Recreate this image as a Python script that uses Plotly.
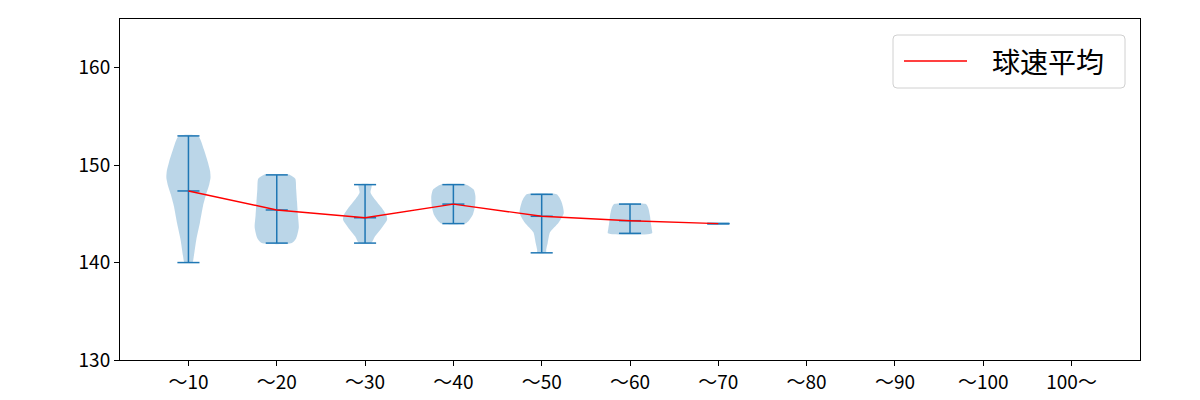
import plotly.graph_objects as go

categories = ["～10", "～20", "～30", "～40", "～50", "～60", "～70", "～80", "～90", "～100", "100～"]
mins = [140, 142, 142, 144, 141, 143, 144]
maxs = [153, 149, 148, 148, 147, 146, 144]
means = [147.35, 145.4, 144.6, 146.0, 144.75, 144.3, 144.0]
# clipped (below axis) markers for the empty categories
empty_vals = [129.9, 129.9, 129.9, 129.9]

# violin outline profiles: speed levels and half-widths
prof_y = [
    [140.0, 140.6, 142.4, 144.1, 145.8, 147.0, 148.0, 148.7, 149.4, 150.3, 151.6, 153.0],
    [142.0, 142.5, 143.6, 144.8, 146.2, 147.5, 148.6, 149.0],
    [142.0, 142.7, 143.4, 144.4, 144.9, 145.6, 146.5, 147.2, 148.0],
    [144.0, 144.3, 144.9, 145.8, 146.8, 147.5, 148.0],
    [141.0, 141.3, 142.0, 143.1, 144.1, 145.1, 146.2, 147.0],
    [143.0, 143.4, 143.9, 144.8, 145.6, 146.0],
]
prof_w = [
    [0.045, 0.06, 0.09, 0.13, 0.165, 0.2, 0.235, 0.25, 0.245, 0.22, 0.175, 0.11],
    [0.17, 0.22, 0.25, 0.24, 0.23, 0.22, 0.21, 0.15],
    [0.068, 0.113, 0.175, 0.25, 0.24, 0.19, 0.11, 0.062, 0.074],
    [0.135, 0.175, 0.22, 0.245, 0.25, 0.23, 0.145],
    [0.05, 0.051, 0.068, 0.094, 0.19, 0.25, 0.226, 0.17],
    [0.25, 0.247, 0.238, 0.226, 0.207, 0.18],
]

BLUE = "#1f77b4"
FILL = "rgba(31,119,180,0.3)"
CAP = 0.125
FONT = "Noto Sans CJK JP"

positions = list(range(1, len(categories) + 1))
fig = go.Figure()

# violin bodies
for i, (ys, ws) in enumerate(zip(prof_y, prof_w)):
    p = positions[i]
    xs = [p - w for w in ws] + [p + w for w in reversed(ws)]
    yy = list(ys) + list(reversed(ys))
    fig.add_trace(go.Scatter(x=xs + [xs[0]], y=yy + [yy[0]], mode="lines", fill="toself",
                             fillcolor=FILL, line=dict(width=0, shape="spline", smoothing=0.6),
                             hoverinfo="skip", showlegend=False))

# vertical bars and caps
for i in range(len(mins)):
    p = positions[i]
    fig.add_trace(go.Scatter(x=[p, p], y=[mins[i], maxs[i]], mode="lines",
                             line=dict(color=BLUE, width=1.5), showlegend=False, hoverinfo="skip"))
    for v in (mins[i], maxs[i], means[i]):
        fig.add_trace(go.Scatter(x=[p - CAP, p + CAP], y=[v, v], mode="lines",
                                 line=dict(color=BLUE, width=1.5), showlegend=False, hoverinfo="skip"))

for j, v in enumerate(empty_vals):
    p = positions[len(mins) + j]
    fig.add_trace(go.Scatter(x=[p - CAP, p + CAP], y=[v, v], mode="lines",
                             line=dict(color=BLUE, width=1.5), showlegend=False, hoverinfo="skip"))

# mean line
fig.add_trace(go.Scatter(x=positions[:len(means)], y=means, mode="lines", name="球速平均",
                         line=dict(color="red", width=1.4), showlegend=False))

# legend (drawn manually)
def px_x(px):
    return (px - 120) / 1020

def px_y(py):
    return (360 - py) / 341

x0, x1, y0, y1 = 893, 1125, 35, 88
r = 4
path = (f"M {px_x(x0 + r)},{px_y(y0)} L {px_x(x1 - r)},{px_y(y0)} "
        f"Q {px_x(x1)},{px_y(y0)} {px_x(x1)},{px_y(y0 + r)} "
        f"L {px_x(x1)},{px_y(y1 - r)} Q {px_x(x1)},{px_y(y1)} {px_x(x1 - r)},{px_y(y1)} "
        f"L {px_x(x0 + r)},{px_y(y1)} Q {px_x(x0)},{px_y(y1)} {px_x(x0)},{px_y(y1 - r)} "
        f"L {px_x(x0)},{px_y(y0 + r)} Q {px_x(x0)},{px_y(y0)} {px_x(x0 + r)},{px_y(y0)} Z")
fig.add_shape(type="path", path=path, xref="paper", yref="paper",
              line=dict(color="#d0d0d0", width=1), fillcolor="rgba(255,255,255,0.8)", layer="above")
fig.add_shape(type="line", xref="paper", yref="paper", x0=px_x(904), x1=px_x(967),
              y0=px_y(61), y1=px_y(61), line=dict(color="red", width=1.4), layer="above")
fig.add_annotation(xref="paper", yref="paper", x=px_x(990), y=px_y(61), text="球速平均",
                   showarrow=False, xanchor="left", yanchor="middle",
                   font=dict(family=FONT, size=28, color="black"))

fig.update_layout(
    width=1200, height=400,
    margin=dict(l=120, r=60, t=19, b=40),
    paper_bgcolor="white", plot_bgcolor="white",
    font=dict(family=FONT, size=19, color="black"),
    showlegend=False,
)
fig.update_xaxes(range=[0.225, 11.775], tickvals=positions, ticktext=categories,
                 showline=True, linecolor="black", linewidth=1, mirror=True, automargin=False,
                 ticks="outside", ticklen=5, tickcolor="black", showgrid=False, zeroline=False)
fig.update_yaxes(range=[130, 165], tickvals=[130, 140, 150, 160], automargin=False,
                 showline=True, linecolor="black", linewidth=1, mirror=True,
                 ticks="outside", ticklen=5, tickcolor="black", showgrid=False, zeroline=False)

fig.write_html("out.html")
